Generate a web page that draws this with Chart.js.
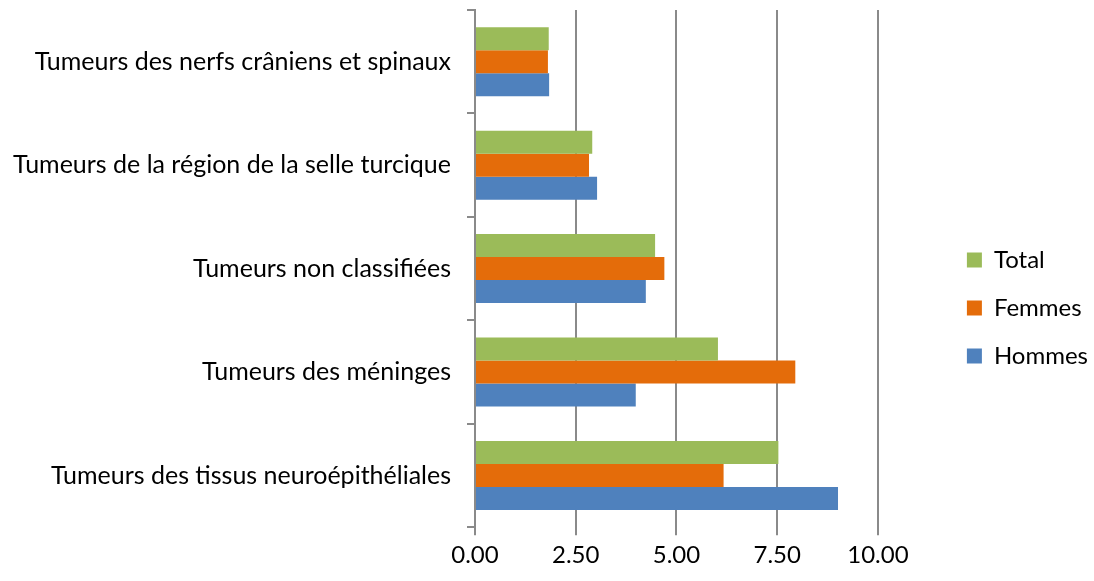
<!DOCTYPE html>
<html>
<head>
<meta charset="utf-8">
<script src="https://cdn.jsdelivr.net/npm/chart.js@4/dist/chart.umd.min.js"></script>
<style>
  html, body { margin: 0; padding: 0; background: #fff; }
  #wrap { width: 1094px; height: 581px; }
</style>
</head>
<body>
<div id="wrap"><canvas id="out"></canvas></div>
<script>
const categories = [
    "Tumeurs des nerfs crâniens et spinaux",
    "Tumeurs de la région de la selle turcique",
    "Tumeurs non classifiées",
    "Tumeurs des méninges",
    "Tumeurs des tissus neuroépithéliales"
];
const total = [1.83, 2.91, 4.47, 6.03, 7.53];
const femmes = [1.81, 2.83, 4.70, 7.95, 6.17];
const hommes = [1.84, 3.03, 4.24, 3.99, 9.01];

const gridGray = "#8a8a8a";
const fontFamily = "Lato, 'Noto Sans', sans-serif";

Chart.defaults.font.family = fontFamily;
Chart.defaults.font.size = 24;
Chart.defaults.color = "#000";

// nudge the legend a bit to the right, like the original
const legendShift = {
    id: "legendShift",
    afterLayout(chart) {
        if (chart.legend) {
            chart.legend.left += 8;
            chart.legend.right += 8;
        }
    }
};

const canvasCtx = document.getElementById("out").getContext("2d");

const chartConfig = {
    type: "bar",
    data: {
        labels: categories,
        datasets: [
            { label: "Total", backgroundColor: "#9BBB59", data: total },
            { label: "Femmes", backgroundColor: "#E46C0A", data: femmes },
            { label: "Hommes", backgroundColor: "#4F81BD", data: hommes }
        ]
    },
    options: {
        indexAxis: "y",
        responsive: true,
        maintainAspectRatio: false,
        animation: false,
        categoryPercentage: 0.667,
        barPercentage: 1.0,
        layout: { padding: { top: 10, left: 0, right: 4, bottom: 5 } },
        plugins: {
            tooltip: { enabled: false },
            legend: {
                position: "right",
                title: { display: true, text: " ", font: { size: 10 }, padding: 9 },
                labels: {
                    boxWidth: 15,
                    boxHeight: 15,
                    padding: 24,
                    font: { size: 24 }
                }
            }
        },
        scales: {
            x: {
                min: 0,
                max: 10,
                ticks: {
                    stepSize: 2.5,
                    padding: 6,
                    callback: v => Number(v).toFixed(2)
                },
                grid: { color: gridGray, lineWidth: 2, tickLength: 8 },
                border: { display: false }
            },
            y: {
                ticks: { padding: 16, font: { size: 25 } },
                grid: {
                    offset: true,
                    drawOnChartArea: false,
                    color: gridGray,
                    lineWidth: 2,
                    tickLength: 8
                },
                border: { display: true, color: gridGray, width: 2 },
                afterFit: s => { s.width = 475; s.paddingTop = 0; s.paddingBottom = 0; }
            },
            gap: {
                type: "category",
                position: "right",
                labels: categories,
                ticks: { display: false },
                grid: { display: false },
                border: { display: false },
                afterFit: s => { s.width = 57; }
            }
        }
    },
    plugins: [legendShift]
};

window.chart = new Chart(canvasCtx, chartConfig);
</script>
</body>
</html>
